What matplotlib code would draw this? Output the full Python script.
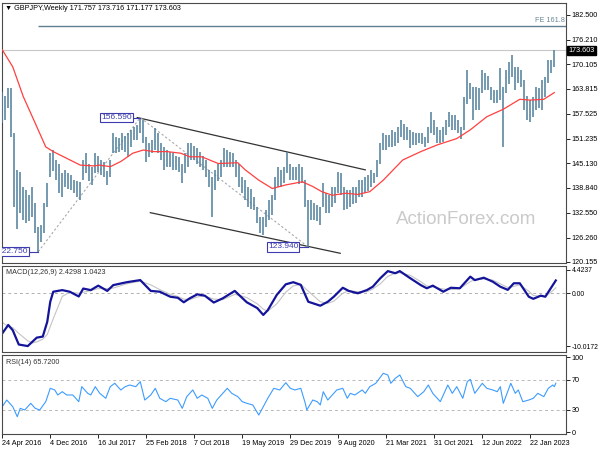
import matplotlib
matplotlib.use('Agg')
import matplotlib.pyplot as plt
import numpy as np

plt.rcParams['font.family'] = ['Liberation Sans', 'DejaVu Sans']

# GBPJPY weekly, drawn as two-week bars; week 0 = 24 Apr 2016
highs = [163.1, 162.0, 164.0, 164.0, 152.6, 143.4, 142.9, 139.1, 138.3, 137.0,
         139.1, 135.0, 129.1, 129.5, 135.0, 140.0, 147.6, 148.4, 145.9, 145.0,
         142.5, 143.4, 142.5, 142.0, 140.8, 140.5, 140.4, 145.9, 147.6, 145.0,
         144.0, 147.6, 147.0, 146.0, 145.5, 143.0, 145.9, 152.6, 151.8, 151.5,
         152.6, 152.0, 152.6, 153.5, 154.3, 154.8, 156.59, 156.0, 151.8, 150.1,
         150.9, 153.9, 152.6, 150.1, 149.2, 148.4, 148.0, 147.6, 147.0, 146.7,
         145.0, 147.6, 150.1, 150.1, 149.5, 148.8, 148.0, 147.0, 145.9, 143.4,
         141.7, 143.4, 145.0, 145.9, 148.8, 148.4, 148.0, 147.6, 145.9, 145.0,
         141.7, 140.8, 139.2, 138.5, 136.6, 134.1, 131.6, 131.6, 133.3, 135.8,
         137.0, 141.7, 144.2, 143.4, 144.2, 148.0, 145.0, 144.2, 144.2, 145.0,
         144.0, 140.8, 135.8, 135.8, 135.0, 134.5, 134.1, 140.0, 137.5, 137.0,
         139.2, 139.0, 142.9, 142.5, 139.2, 138.3, 138.3, 139.2, 139.0, 140.8,
         140.8, 141.7, 142.0, 143.4, 142.5, 145.9, 150.1, 152.6, 152.2, 152.2,
         153.5, 153.0, 154.3, 156.0, 155.0, 154.3, 153.5, 153.0, 152.6, 152.6,
         152.6, 151.8, 154.3, 158.1, 156.0, 154.3, 153.5, 154.3, 156.0, 158.1,
         157.3, 157.2, 156.0, 154.3, 161.9, 168.6, 165.2, 164.4, 164.4, 164.0,
         168.6, 167.8, 167.0, 164.4, 163.5, 163.5, 169.0, 164.4, 168.6, 170.5,
         172.4, 169.4, 169.4, 168.6, 166.1, 162.0, 161.0, 161.9, 164.4, 164.0,
         166.1, 166.9, 171.1, 171.1, 173.7]
lows = [155.1, 156.0, 159.0, 151.8, 134.1, 128.6, 132.4, 130.7, 129.9, 130.5,
        131.6, 127.4, 122.75, 125.3, 127.5, 134.0, 141.7, 143.0, 140.8, 137.5,
        136.6, 139.2, 138.5, 138.3, 137.5, 136.5, 135.8, 140.8, 142.5, 140.5,
        139.6, 142.5, 142.8, 142.0, 141.5, 139.6, 141.7, 147.6, 147.6, 147.8,
        148.4, 148.0, 146.7, 149.2, 150.9, 151.0, 152.6, 150.1, 145.5, 146.7,
        147.6, 148.4, 147.6, 145.9, 143.4, 144.2, 144.2, 143.4, 143.4, 142.9,
        140.0, 142.5, 144.2, 145.9, 145.9, 145.0, 144.2, 143.4, 141.7, 139.2,
        131.6, 138.3, 140.5, 141.7, 144.2, 144.2, 144.2, 144.0, 141.7, 139.2,
        137.5, 135.8, 134.1, 133.5, 133.3, 130.0, 127.4, 127.0, 129.1, 130.8,
        132.0, 135.8, 139.2, 139.2, 140.0, 142.5, 140.8, 140.8, 140.8, 139.9,
        140.0, 134.1, 123.94, 130.8, 130.8, 130.5, 129.5, 134.1, 132.5, 132.4,
        134.1, 135.0, 137.5, 137.0, 133.3, 133.5, 134.1, 134.9, 135.0, 136.6,
        136.6, 137.5, 138.0, 139.2, 140.0, 141.7, 145.0, 148.4, 148.4, 149.2,
        149.2, 149.5, 150.1, 151.8, 151.0, 150.9, 148.8, 149.6, 149.6, 150.1,
        150.0, 149.2, 150.1, 152.6, 152.2, 150.1, 150.1, 150.5, 152.2, 154.3,
        153.5, 153.5, 152.6, 151.3, 153.5, 160.0, 161.2, 156.0, 158.5, 158.5,
        162.7, 163.5, 163.5, 161.0, 160.2, 160.2, 161.0, 149.2, 162.7, 165.0,
        166.9, 163.5, 165.2, 164.4, 158.5, 156.0, 155.6, 156.8, 158.5, 159.0,
        158.5, 161.9, 165.2, 167.8, 169.4]

ma_weeks = [0, 7, 14, 21, 29, 34, 43, 52, 61, 65, 72, 79, 87, 94, 101, 110, 119, 125,
            133, 144, 157, 162, 171, 180, 189, 200, 207, 213, 220, 229, 237, 245, 254,
            267, 279, 290, 303, 312, 323, 334, 345, 352, 361, 368]
ma_values = [173.7, 169.4, 161.9, 156.0, 149.2, 148.0, 146.3, 144.6, 144.4, 144.6,
             144.2, 145.5, 147.6, 148.4, 148.0, 148.0, 147.6, 146.7, 146.7, 145.0,
             145.2, 143.4, 140.8, 138.7, 139.6, 140.4, 139.2, 137.9, 137.0, 137.5,
             137.2, 137.9, 140.8, 145.9, 148.0, 149.7, 151.3, 153.5, 156.8, 158.7,
             161.2, 161.0, 161.2, 162.9]

macd_weeks = [0, 4, 7, 11, 17, 20, 23, 27, 30, 32, 34, 40, 45, 51, 54, 59, 64, 70, 74, 83,
              92, 99, 105, 112, 117, 121, 125, 130, 135, 141, 147, 155, 163, 170, 174, 177,
              183, 189, 194, 199, 204, 212, 217, 221, 227, 231, 237, 243, 247, 252, 257,
              262, 265, 272, 279, 283, 287, 294, 299, 305, 312, 315, 321, 327, 332, 337,
              341, 345, 351, 354, 359, 362, 367, 369]
macd_values = [-7.6, -6.0, -7.0, -9.7, -10.0, -9.2, -8.4, -8.2, -5.4, -1.6,
               0.3, 0.6, 0.3, -0.6, 0.9, 0.6, 1.45, 0.45, 1.55, 2.1,
               2.5, 0.45, 0.3, -0.65, -0.85, -1.7, -0.95, -0.2, -0.45, -1.75,
               -0.95, 0.45, -1.7, -2.8, -4.1, -3.2, -0.3, 1.7, 2.1, 1.6,
               -1.6, -2.35, -1.6, -0.65, 1.05, 0.45, 0.0, 0.6, 1.25, 2.85,
               4.2, 3.8, 4.2, 2.85, 1.55, 0.95, 1.45, 0.3, 1.05, 0.95,
               3.15, 2.5, 2.95, 2.2, 1.25, 0.65, 1.9, 1.9, -0.65, -1.05,
               -0.45, -0.65, 1.55, 2.43]
signal_values = [-5.5, -6.3, -6.5, -7.6, -9.0, -9.4, -9.2, -8.7, -7.8, -6.3,
                 -4.8, -0.6, 0.2, 0.0, 0.2, 0.5, 0.9, 0.9, 1.0, 1.8,
                 2.3, 1.6, 0.7, -0.2, -0.6, -1.1, -1.2, -0.7, -0.5, -1.1,
                 -1.2, -0.2, -0.8, -2.0, -3.0, -3.4, -2.0, 0.2, 1.4, 1.7,
                 0.4, -1.6, -1.9, -1.5, 0.0, 0.5, 0.3, 0.3, 0.8, 1.8,
                 3.2, 3.8, 3.9, 3.4, 2.2, 1.4, 1.2, 0.8, 0.7, 0.9,
                 2.2, 2.6, 2.7, 2.5, 1.8, 1.1, 1.3, 1.6, 0.4, -0.4,
                 -0.6, -0.6, 0.5, 1.04]

rsi_weeks = [0, 3, 7, 10, 12, 15, 19, 22, 25, 29, 32, 35, 37, 40, 43, 47, 51, 53, 57, 59,
             62, 65, 69, 72, 75, 79, 82, 85, 89, 92, 95, 99, 102, 105, 109, 112, 117, 120,
             123, 127, 130, 133, 137, 140, 143, 147, 150, 153, 157, 160, 163, 167, 171,
             174, 177, 181, 185, 189, 192, 195, 199, 202, 203, 207, 210, 212, 214, 217,
             220, 223, 227, 230, 232, 235, 240, 242, 245, 249, 254, 257, 259, 262, 265,
             269, 272, 275, 277, 281, 284, 287, 292, 297, 300, 303, 307, 310, 312, 315,
             320, 323, 327, 330, 332, 334, 339, 342, 344, 347, 351, 354, 357, 361, 364,
             367, 368, 369]
rsi_values = [34.4, 43.3, 34.4, 21.1, 32.2, 30, 38.9, 32.2, 30, 41.1,
              58.9, 56.7, 50, 54.4, 50, 50, 41.1, 61.1, 52.2, 50,
              61.1, 52.2, 45.6, 61.1, 65.6, 56.7, 61.1, 63.3, 61.1, 67.8,
              43.3, 50, 58.9, 45.6, 41.1, 45.6, 43.3, 32.2, 47.8, 56.7,
              45.6, 50, 45.6, 32.2, 43.3, 52.2, 58.9, 52.2, 47.8, 41.1,
              38.9, 36.7, 23.3, 34.4, 45.6, 58.9, 56.7, 66.4, 58.9, 56.7,
              58.9, 38.9, 30, 43.3, 41.1, 36.7, 54.4, 43.3, 50, 56.7,
              58.9, 45.6, 52.2, 50, 56.7, 52.2, 61.1, 65.6, 78.9, 76.7,
              65.6, 72.2, 76.7, 61.1, 58.9, 52.2, 47.8, 54.4, 63.3, 52.2,
              41.1, 63.3, 52.2, 61.1, 45.6, 67.8, 70.9, 52.2, 65.6, 58.9,
              56.7, 54.4, 61.1, 38.9, 65.6, 52.2, 56.7, 41.1, 43.3, 45.6,
              52.2, 47.8, 58.9, 63.3, 61.1, 65.7]

date_labels = ['24 Apr 2016', '4 Dec 2016', '16 Jul 2017', '25 Feb 2018', '7 Oct 2018',
               '19 May 2019', '29 Dec 2019', '9 Aug 2020', '21 Mar 2021', '31 Oct 2021',
               '12 Jun 2022', '22 Jan 2023']
price_ticks = [182.500, 176.210, 170.105, 163.815, 157.525, 151.235, 145.130,
               138.840, 132.550, 126.260, 120.155]
last_price = 173.603
fe_level = 179.7

bar_weeks = np.arange(len(highs)) * 2

bar_col = '#55839f'
box_col = '#3c3cb0'
spine_col = '#4a4a4a'
fs = 5.2

fig = plt.figure(figsize=(6, 4.5), dpi=100)
L, W = 1.5 / 600, 564.5 / 600
ax = fig.add_axes([L, 1 - 263 / 450, W, 260 / 450])
ax_macd = fig.add_axes([L, 1 - 352 / 450, W, 86 / 450])
ax_rsi = fig.add_axes([L, 1 - 434 / 450, W, 79 / 450])

for a in (ax, ax_macd, ax_rsi):
    a.set_xlim(-0.5, 375.8)
    for s in a.spines.values():
        s.set_color(spine_col)
        s.set_linewidth(0.8)
    a.yaxis.tick_right()
    a.tick_params(axis='y', length=3, width=0.6, labelsize=fs, pad=1.2, colors='black')
    a.tick_params(axis='x', length=0)
    a.set_xticks([])

# --- price panel ---
ax.set_ylim(119.9, 185.5)
ax.axhline(last_price, color='#c8c8c8', lw=0.8, zorder=1)
ax.hlines(fe_level, 23.5, 375.8, color='#5f7f8f', lw=1.0, zorder=1)
ax.text(375.3, fe_level + 0.6, 'FE 161.8', ha='right', va='bottom', fontsize=fs, color='#6a8797')

ax.vlines(bar_weeks, lows, highs, colors=bar_col, lw=1.15, zorder=3)
ax.plot(ma_weeks, ma_values, color='#ff4040', lw=0.9, zorder=4)

# channel and fibo lines
ax.plot([90, 242], [156.6, 143.4], color='#333333', lw=0.9, zorder=2)
ax.plot([98.7, 225.3], [132.6, 122.35], color='#333333', lw=0.9, zorder=2)
ax.plot([24, 92, 204], [122.75, 156.59, 123.94], color='#a8a8a8', lw=0.8,
        ls=(0, (2, 2)), zorder=2)

lbl = dict(ha='right', va='center', fontsize=fs + 0.8, color=box_col, zorder=6, clip_on=True,
           bbox=dict(boxstyle='square,pad=0.15', fc='white', ec=box_col, lw=0.8))
ax.text(17.2, 122.75, '122.750', **lbl)
ax.plot([17.5, 24], [122.75, 122.75], color=box_col, lw=0.8, zorder=5)
ax.text(86.3, 156.59, '156.590', **lbl)
ax.plot([86.6, 92], [156.59, 156.59], color=box_col, lw=0.8, zorder=5)
ax.text(197.3, 123.94, '123.940', **lbl)
ax.plot([197.6, 204], [123.94, 123.94], color=box_col, lw=0.8, zorder=5)

ax.text(309, 130.75, 'ActionForex.com', ha='center', va='center', fontsize=13.5,
        color='#cacaca', zorder=0)

ax.set_yticks(price_ticks)
ax.set_yticklabels([f'{v:.3f}' for v in price_ticks])
ax.text(1.004, last_price, f'{last_price:.3f}', transform=ax.get_yaxis_transform(),
        ha='left', va='center', fontsize=fs, color='white', clip_on=False,
        bbox=dict(boxstyle='square,pad=0.15', fc='black', ec='black'))

fig.text(5 / 600, 1 - 8 / 450, '\u25bc GBPJPY,Weekly 171.757 173.716 171.177 173.603',
         fontsize=fs, va='center', ha='left')

# --- MACD panel ---
ax_macd.set_ylim(-11.12, 5.17)
ax_macd.axhline(0, color='#b0b0b0', lw=0.7, ls=(0, (3, 3)))
ax_macd.plot(macd_weeks, signal_values, color='#c4c4c4', lw=0.8)
ax_macd.plot(macd_weeks, macd_values, color='#14149a', lw=1.6)
ax_macd.set_yticks([4.4237, 0.0, -10.0172])
ax_macd.set_yticklabels(['4.4237', '0.00', '-10.0172'])
ax_macd.tick_params(axis='y', labelsize=4.9)
ax_macd.text(0.008, 0.93, 'MACD(12,26,9) 2.4298 1.0423', transform=ax_macd.transAxes,
             ha='left', va='center', fontsize=fs, color='#333333')

# --- RSI panel ---
ax_rsi.set_ylim(-2, 103.3)
for lev in (70, 30):
    ax_rsi.axhline(lev, color='#b8b8b8', lw=0.7, ls=(0, (3, 3)))
ax_rsi.plot(rsi_weeks, rsi_values, color='#3d9cff', lw=0.8)
ax_rsi.set_yticks([100, 70, 30, 0])
ax_rsi.set_yticklabels(['100', '70', '30', '0'])
ax_rsi.text(0.008, 0.91, 'RSI(14) 65.7200', transform=ax_rsi.transAxes,
            ha='left', va='center', fontsize=fs, color='#333333')

ax_rsi.set_xticks(np.arange(len(date_labels)) * 32)
ax_rsi.set_xticklabels(date_labels, ha='left')
ax_rsi.tick_params(axis='x', length=3, width=0.6, labelsize=fs, pad=1.5)

fig.savefig('out.png', dpi=100, facecolor='white')
